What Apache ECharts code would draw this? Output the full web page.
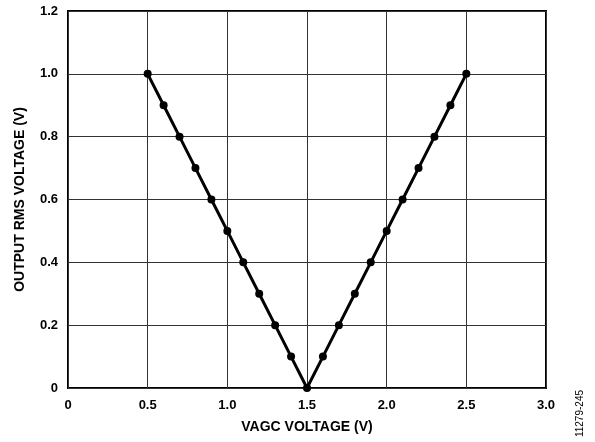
<!DOCTYPE html>
<html><head><meta charset="utf-8">
<script src="https://cdn.jsdelivr.net/npm/echarts@6/dist/echarts.min.js"></script>
<style>html,body{margin:0;padding:0;background:#fff}#c{width:595px;height:442px}</style>
</head><body><div id="c"></div>
<script>
const xValues = [0.5,0.6,0.7,0.8,0.9,1.0,1.1,1.2,1.3,1.4,1.5,1.6,1.7,1.8,1.9,2.0,2.1,2.2,2.3,2.4,2.5];
const yValues = [1.0,0.9,0.8,0.7,0.6,0.5,0.4,0.3,0.2,0.1,0.0,0.1,0.2,0.3,0.4,0.5,0.6,0.7,0.8,0.9,1.0];
const xTitle = 'VAGC VOLTAGE (V)';
const yTitle = 'OUTPUT RMS VOLTAGE (V)';
const figId = '11279-245';

const font = 'Liberation Sans, Arial, sans-serif';
const chart = echarts.init(document.getElementById('c'), null, {renderer:'canvas'});
chart.setOption({
  animation:false,
  backgroundColor:'#fff',
  grid:{left:68,top:11,width:478,height:377,show:true,borderColor:'#000',borderWidth:2,backgroundColor:'transparent'},
  xAxis:{type:'value',min:0,max:3,interval:0.5,
    axisLine:{show:false},axisTick:{show:false},
    splitLine:{lineStyle:{color:'#333',width:1}},
    axisLabel:{color:'#000',fontFamily:font,fontWeight:'bold',fontSize:13,margin:11,
      formatter:v=>v===0?'0':v.toFixed(1)},
    name:xTitle,nameLocation:'middle',nameGap:32,
    nameTextStyle:{color:'#000',fontFamily:font,fontWeight:'bold',fontSize:14}},
  yAxis:{type:'value',min:0,max:1.2,interval:0.2,
    axisLine:{show:false},axisTick:{show:false},
    splitLine:{lineStyle:{color:'#333',width:1}},
    axisLabel:{color:'#000',fontFamily:font,fontWeight:'bold',fontSize:13,margin:10,
      formatter:v=>v===0?'0':v.toFixed(1)},
    name:yTitle,nameLocation:'middle',nameGap:41,
    nameTextStyle:{color:'#000',fontFamily:font,fontWeight:'bold',fontSize:14}},
  graphic:[{type:'text',left:575,top:390,rotation:Math.PI/2,
    style:{text:figId,fill:'#000',font:'10px '+font}}],
  series:[{type:'line',data:xValues.map((x,i)=>[x,yValues[i]]),
    symbol:'circle',symbolSize:8,
    lineStyle:{color:'#000',width:3},itemStyle:{color:'#000'}}]
});
</script></body></html>
